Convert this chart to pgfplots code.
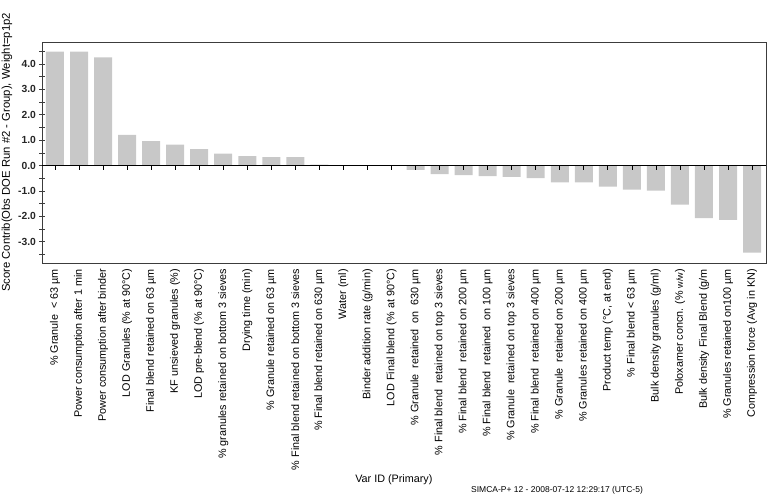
\documentclass[border=0pt]{standalone}
\usepackage{pgfplots}
\pgfplotsset{compat=1.18}
\usepackage{fontspec}
\setmainfont{Liberation Sans}
\usetikzlibrary{calc}
\definecolor{barfill}{RGB}{200,200,200}
\definecolor{frame}{RGB}{60,60,60}
\begin{document}
\begin{tikzpicture}
\begin{axis}[name=ax, at={(0,0)}, anchor=south west,
  scale only axis, width=724pt, height=221pt,
  xmin=-0.54, xmax=29.58, ymin=-3.84, ymax=4.87,
  ybar, bar width=18pt,
  axis line style={frame, line width=0.8pt},
  ytick={-3,...,4}, minor ytick={-3.5,-2.5,...,4.5},
  ytick pos=left, tick align=center,
  major tick length=5pt, minor tick length=5pt,
  every tick/.style={frame, line width=0.7pt},
  yticklabel style={font=\fontsize{10.3}{12}\selectfont\bfseries, text=black!85, /pgf/number format/.cd, fixed, fixed zerofill, precision=1, assume math mode=true},
  xtick={0,...,29}, major x tick style={draw=none},
  xticklabels={
    {\% Granule \ < 63 µm},
    {Power consumption after 1 min},
    {Power consumption after binder},
    {LOD Granules (\% at 90°C)},
    {Final blend retained on 63 µm},
    {KF unsieved granules (\%)},
    {LOD pre-blend (\% at 90°C)},
    {\% granules retained on bottom 3 sieves},
    {Drying time (min)},
    {\% Granule retained on 63 µm},
    {\% Final blend retained on bottom 3 sieves},
    {\% Final blend retained on 630 µm},
    {Water (ml)},
    {Binder addition rate (g/min)},
    {LOD Final blend (\% at 90°C)},
    {\% Granule \ retained \ on \ 630 µm},
    {\% Final blend \ retained on top 3 sieves},
    {\% Final blend \ retained on 200 µm},
    {\% Final blend \ retained \ on 100 µm},
    {\% Granule \ retained on top 3 sieves},
    {\% Final blend \ retained on 400 µm},
    {\% Granule \ retained on 200 µm},
    {\% Granules retained on 400 µm},
    {Product temp (°C, at end)},
    {\% Final blend < 63 µm},
    {Bulk density granules (g/ml)},
    {Poloxamer concn. (\% {\fontsize{9}{10}\selectfont w/w})},
    {Bulk density Final Blend (g/m},
    {\% Granules retained on100 µm},
    {Compression force (Avg in KN)}},
  x tick label style={rotate=90, anchor=east, font=\fontsize{10.8}{12}\selectfont},
  xlabel={Var ID (Primary)},
  xlabel style={at={(axis description cs:0.486,0)}, anchor=center, yshift=-217pt, font=\fontsize{10.8}{12}\selectfont},
  ylabel={Score Contrib(Obs DOE Run \#2 - Group), Weight=p1p2},
  ylabel style={at={(axis description cs:-0.0483,0.5)}, anchor=center, font=\fontsize{11.3}{12}\selectfont},
  clip=false,
]
\addplot[fill=barfill, draw=none] coordinates {
(0,4.49) (1,4.49) (2,4.26) (3,1.21) (4,0.96) (5,0.83) (6,0.65) (7,0.47) (8,0.37) (9,0.33)
(10,0.33) (11,0.04) (12,0.01) (13,0.01) (14,0.01) (15,-0.17) (16,-0.34) (17,-0.38) (18,-0.42) (19,-0.45)
(20,-0.49) (21,-0.66) (22,-0.66) (23,-0.83) (24,-0.95) (25,-0.99) (26,-1.54) (27,-2.07) (28,-2.14) (29,-3.43)};
\end{axis}
\node[font=\fontsize{8.5}{10}\selectfont] at ($(ax.south west)+(515pt,-227pt)$) {SIMCA-P+ 12 - 2008-07-12 12:29:17 (UTC-5)};
\begin{axis}[at={(0,0)}, anchor=south west,
  scale only axis, width=724pt, height=221pt,
  xmin=-0.54, xmax=29.58, ymin=-3.84, ymax=4.87,
  axis x line=middle, axis y line=none,
  axis line style={-, black, line width=0.8pt},
  xtick={0,...,29}, xticklabels={}, ytick=\empty,
  major tick length=4pt,
  x tick style={black, line width=0.7pt, yshift=-2pt},
]
\addplot[draw=none] coordinates {(0,0)};
\end{axis}
\pgfresetboundingbox
\path[use as bounding box] ($(ax.south west)+(-42pt,-232pt)$) rectangle ($(ax.north east)+(1pt,42pt)$);
\end{tikzpicture}
\end{document}
